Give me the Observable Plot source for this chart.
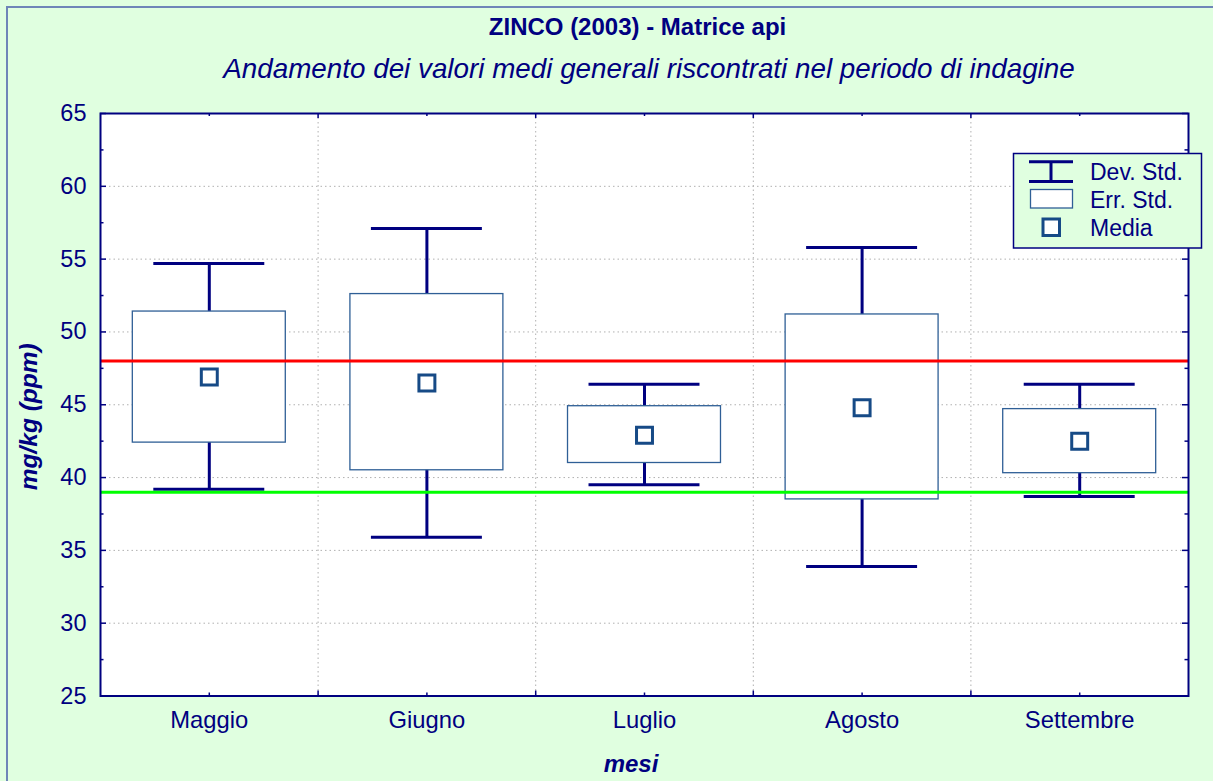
<!DOCTYPE html>
<html>
<head>
<meta charset="utf-8">
<script src="https://cdn.jsdelivr.net/npm/d3@7"></script>
<script src="https://cdn.jsdelivr.net/npm/@observablehq/plot@0.6"></script>
<style>
  html, body { margin: 0; padding: 0; background: #e0ffe0; overflow: hidden; }
  #wrap { position: relative; width: 1213px; height: 781px; overflow: hidden; background: #e0ffe0; font-family: "Liberation Sans", Arial, sans-serif; }
  #border { position: absolute; left: 6px; top: 6px; width: 1400px; height: 1000px; border-left: 2px solid #6f86b8; border-top: 2px solid #6f86b8; box-sizing: border-box; }
  #wrap svg { position: absolute; left: 0; top: 0; }
</style>
</head>
<body>
<div id="wrap"><div id="border"></div></div>
<script>
// ---- data ----
const months = ["Maggio", "Giugno", "Luglio", "Agosto", "Settembre"];
const sdHigh = [54.7, 57.1, 46.4, 55.8, 46.4];
const sdLow  = [39.2, 35.9, 39.5, 33.9, 38.7];
const seHigh = [51.4, 52.6, 44.9, 51.2, 44.7];
const seLow  = [42.4, 40.5, 41.0, 38.5, 40.3];
const means  = [46.9, 46.5, 42.9, 44.8, 42.5];
const refHigh = [48];
const refLow = [39];
const yTicks = [25, 30, 35, 40, 45, 50, 55, 60, 65];
const yMinor = [27.5, 32.5, 37.5, 42.5, 47.5, 52.5, 57.5, 62.5];
const legendLabels = ["Dev. Std.", "Err. Std.", "Media"];
const title = "ZINCO (2003) - Matrice api";
const subtitle = "Andamento dei valori medi generali riscontrati nel periodo di indagine";
const xLabel = "mesi";
const yLabel = "mg/kg (ppm)";

const table = months.map((m, i) => ({
  month: m, pos: i + 0.5,
  sdHigh: sdHigh[i], sdLow: sdLow[i], seHigh: seHigh[i], seLow: seLow[i], mean: means[i]
}));

const navy = "#000080";
const W = 1213, H = 781;
const mL = 100, mR = 25, mT = 113, mB = 85.5;
const fw = W - mL - mR, fh = H - mT - mB;
const boxHalf = 0.3515, capHalf = 0.255;
const font = "Liberation Sans, Arial, sans-serif";

const centers = table.map(d => d.pos);
const bounds = [1, 2, 3, 4];

const chart = Plot.plot({
  width: W, height: H,
  marginLeft: mL, marginRight: mR, marginTop: mT, marginBottom: mB,
  style: { background: "transparent", color: navy, fontFamily: font, overflow: "visible" },
  x: { domain: [0, 5], axis: null },
  y: { domain: [25, 65], axis: null },
  marks: [
    Plot.frame({ fill: "white", stroke: "none" }),
    Plot.gridY([30, 35, 40, 45, 50, 55, 60], { stroke: "#b0b0b0", strokeOpacity: 1, strokeDasharray: "1.5,3" }),
    Plot.gridX(bounds, { stroke: "#b0b0b0", strokeOpacity: 1, strokeDasharray: "1.5,3" }),
    // whiskers
    Plot.ruleX(table, { x: "pos", y1: "sdLow", y2: "sdHigh", stroke: navy, strokeWidth: 3 }),
    // std err boxes
    Plot.rect(table, { x1: d => d.pos - boxHalf, x2: d => d.pos + boxHalf, y1: "seLow", y2: "seHigh",
      fill: "white", stroke: "#2f5f96", strokeWidth: 1.3 }),
    // caps
    Plot.ruleY(table, { y: "sdHigh", x1: d => d.pos - capHalf, x2: d => d.pos + capHalf, stroke: navy, strokeWidth: 3 }),
    Plot.ruleY(table, { y: "sdLow", x1: d => d.pos - capHalf, x2: d => d.pos + capHalf, stroke: navy, strokeWidth: 3 }),
    // reference lines
    Plot.ruleY(refHigh, { stroke: "#ff0000", strokeWidth: 3 }),
    Plot.ruleY(refLow, { stroke: "#00ff00", strokeWidth: 3 }),
    // means
    Plot.dot(table, { x: "pos", y: "mean", symbol: "square", r: 9, fill: "white", stroke: "#164a86", strokeWidth: 3 }),
    // inner ticks
    Plot.tickY(yTicks, { y: d => d, insetRight: fw - 6, stroke: navy, strokeWidth: 1.5 }),
    Plot.tickY(yMinor, { y: d => d, insetRight: fw - 3.5, stroke: navy, strokeWidth: 1.5 }),
    Plot.tickY(yTicks, { y: d => d, insetLeft: fw - 6, stroke: navy, strokeWidth: 1.5 }),
    Plot.tickY(yMinor, { y: d => d, insetLeft: fw - 3.5, stroke: navy, strokeWidth: 1.5 }),
    Plot.tickX(bounds, { x: d => d, insetBottom: fh - 5, stroke: navy, strokeWidth: 1.5 }),
    Plot.tickX(centers, { x: d => d, insetBottom: fh - 3, stroke: navy, strokeWidth: 1.5 }),
    Plot.tickX(bounds, { x: d => d, insetTop: fh - 5, stroke: navy, strokeWidth: 1.5 }),
    Plot.tickX(centers, { x: d => d, insetTop: fh - 3, stroke: navy, strokeWidth: 1.5 }),
    Plot.frame({ stroke: navy, strokeWidth: 2 }),
    // axes
    Plot.axisY(yTicks, { tickSize: 0, tickPadding: 14, fontSize: 23.5, fill: navy, label: null }),
    Plot.axisX(centers, { tickSize: 0, tickPadding: 15, fontSize: 23.8, fill: navy, label: null,
      tickFormat: d => months[Math.floor(d)] }),
    // titles and labels
    Plot.text([title], { frameAnchor: "top", lineAnchor: "middle", textAnchor: "middle", dx: -7, dy: -85.7, fontSize: 24, fontWeight: "bold", fill: navy }),
    Plot.text([subtitle], { frameAnchor: "top", lineAnchor: "middle", textAnchor: "middle", dx: 4.5, dy: -44.6, fontSize: 27.8, fontStyle: "italic", fill: navy }),
    Plot.text([xLabel], { frameAnchor: "bottom", lineAnchor: "middle", textAnchor: "middle", dx: -13.5, dy: 68.5, fontSize: 24, fontWeight: "bold", fontStyle: "italic", fill: navy }),
    Plot.text([yLabel], { frameAnchor: "left", lineAnchor: "middle", textAnchor: "middle", rotate: -90, dx: -71.7, dy: 12, fontSize: 24.5, fontWeight: "bold", fontStyle: "italic", fill: navy })
  ]
});

document.getElementById("wrap").appendChild(chart);

// ---- legend ----
const svg = d3.select(chart);
const lg = svg.append("g").attr("font-family", font).attr("font-size", 23).attr("fill", navy).attr("text-anchor", "start");
lg.append("rect").attr("x", 1013.5).attr("y", 153.5).attr("width", 188).attr("height", 94.5)
  .attr("fill", "#e0ffe0").attr("stroke", navy).attr("stroke-width", 1.5);
// Dev. Std. symbol
lg.append("line").attr("x1", 1029).attr("x2", 1073).attr("y1", 161.7).attr("y2", 161.7).attr("stroke", navy).attr("stroke-width", 3);
lg.append("line").attr("x1", 1029).attr("x2", 1073).attr("y1", 181.5).attr("y2", 181.5).attr("stroke", navy).attr("stroke-width", 3);
lg.append("line").attr("x1", 1051).attr("x2", 1051).attr("y1", 161.7).attr("y2", 181.5).attr("stroke", navy).attr("stroke-width", 3);
// Err. Std. symbol
lg.append("rect").attr("x", 1030.5).attr("y", 189.5).attr("width", 42).attr("height", 18.5)
  .attr("fill", "white").attr("stroke", "#2f5f96").attr("stroke-width", 1.3);
// Media symbol
lg.append("rect").attr("x", 1043).attr("y", 219).attr("width", 16.5).attr("height", 16.5)
  .attr("fill", "white").attr("stroke", "#164a86").attr("stroke-width", 3);
const ys = [180, 208, 235.5];
legendLabels.forEach((t, i) => {
  lg.append("text").attr("x", 1090).attr("y", ys[i]).attr("text-anchor", "start").text(t);
});
</script>
</body>
</html>
